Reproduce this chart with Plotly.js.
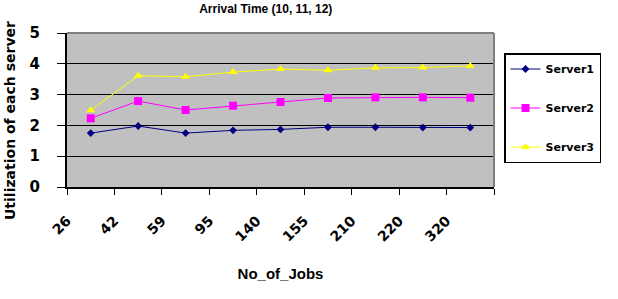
<!DOCTYPE html>
<html>
<head>
<meta charset="utf-8">
<script src="https://cdn.plot.ly/plotly-3.0.1.min.js"></script>
<style>html,body{margin:0;padding:0;background:#fff;}#chart{width:618px;height:299px;}</style>
</head>
<body>
<div id="chart"></div>
<script>
const jobs = ["26", "42", "59", "95", "140", "155", "210", "220", "320"];
const server1 = [1.75, 1.98, 1.75, 1.84, 1.87, 1.94, 1.94, 1.93, 1.93];
const server2 = [2.23, 2.79, 2.50, 2.64, 2.76, 2.89, 2.91, 2.91, 2.90];
const server3 = [2.49, 3.61, 3.58, 3.73, 3.83, 3.79, 3.87, 3.88, 3.93];

const xs = jobs.map((_, i) => i + 0.5);
const tickvals = jobs.map((_, i) => i).concat([jobs.length]);
const ticktext = jobs.concat([""]);

const F = "Liberation Sans, Arial, sans-serif";
const D = "DejaVu Sans, sans-serif";
function tr(name, y, color, symbol, size, grp) {
  return {
    x: xs, y: y, name: name, type: "scatter", mode: "lines+markers",
    legendgroup: grp,
    line: {color: color, width: 1},
    marker: {color: color, symbol: symbol, size: size}
  };
}
const data = [
  tr("Server1", server1, "#000080", "diamond", 6, "a"),
  tr("Server2", server2, "#ff00ff", "square", 8, "b"),
  tr("Server3", server3, "#ffff00", "triangle-up", 8, "c")
];
const layout = {
  width: 618, height: 299,
  margin: {l: 67, r: 124, t: 33, b: 112},
  paper_bgcolor: "#ffffff",
  plot_bgcolor: "#c0c0c0",
  font: {family: F, color: "#000"},
  title: {text: "Arrival Time (10, 11, 12)", font: {family: F, size: 12, weight: "bold"},
          x: 0.43, xanchor: "center", y: 0.972, yref: "container", yanchor: "middle"},
  xaxis: {
    range: [0, jobs.length], tickmode: "array", tickvals: tickvals, ticktext: ticktext,
    tickangle: -45, ticks: "outside", ticklen: 6, tickcolor: "#000",
    showgrid: false, zeroline: false, showline: true, linecolor: "#000", linewidth: 2,
    tickfont: {family: D, size: 14, weight: "bold"},
    ticklabelshift: 0, ticklabelstandoff: 12,
    title: {text: "No_of_Jobs", font: {family: F, size: 15, weight: "bold"}, standoff: 25},
    fixedrange: true
  },
  yaxis: {
    range: [0, 5], tickvals: [0, 1, 2, 3, 4, 5], ticks: "outside", ticklen: 8, tickcolor: "#000",
    showgrid: true, gridcolor: "#000", gridwidth: 1, zeroline: false,
    showline: true, linecolor: "#000", linewidth: 2,
    tickfont: {family: D, size: 15, weight: "bold"}, ticklabelstandoff: 14,
    fixedrange: true
  },
  annotations: [
    {text: "Utilization of each server", textangle: -90, showarrow: false,
     xref: "paper", yref: "paper", x: 0, xshift: -57, xanchor: "center",
     y: (299 - 121 - 112) / (299 - 33 - 112), yanchor: "middle",
     font: {family: D, size: 14, weight: "bold", color: "#000"}}
  ],
  shapes: [
    {type: "line", xref: "paper", yref: "paper", x0: 0, x1: 1, y0: 1, y1: 1, line: {color: "#808080", width: 2}},
    {type: "line", xref: "paper", yref: "paper", x0: 1, x1: 1, y0: 0, y1: 1, line: {color: "#808080", width: 2}}
  ],
  legend: {
    font: {family: D, size: 11, weight: "bold"},
    bgcolor: "#fff", bordercolor: "#000", borderwidth: 1.5,
    traceorder: "grouped", tracegroupgap: 20, xanchor: "left", yanchor: "top"
  }
};
layout.legend.x = (504 - 67) / (494 - 67);
layout.legend.y = (187 - 53) / (187 - 33);
Plotly.newPlot("chart", data, layout, {displayModeBar: false, staticPlot: true});
</script>
</body>
</html>
